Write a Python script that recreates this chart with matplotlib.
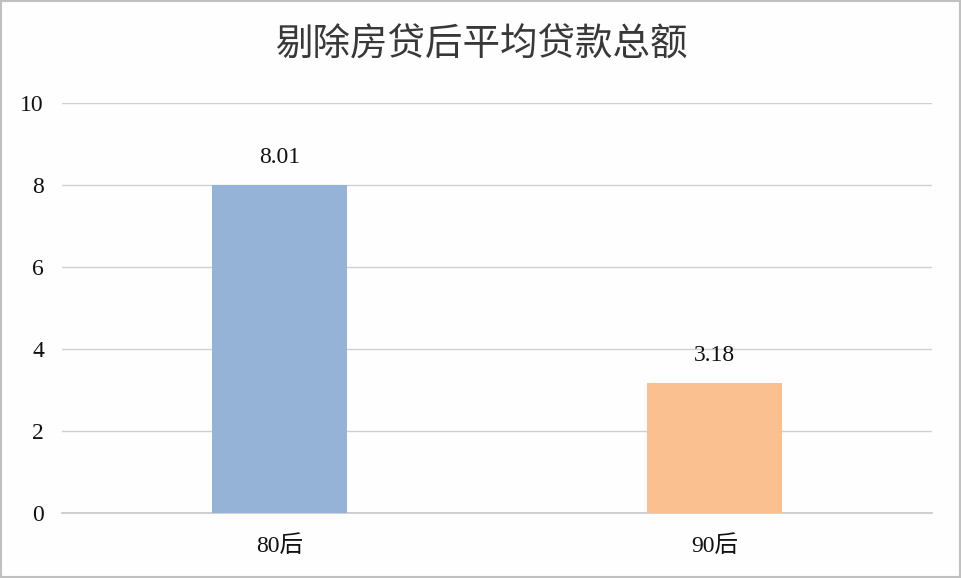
import matplotlib
matplotlib.use("Agg")
import matplotlib.pyplot as plt
from matplotlib.patches import Rectangle

categories = ["80后", "90后"]
values = [8.01, 3.18]
colors = ["#95b3d7", "#fac090"]
yticks = [0, 2, 4, 6, 8, 10]
title = "剔除房贷后平均贷款总额"

plt.rcParams['font.family'] = ['Liberation Serif', 'Noto Sans CJK SC', 'DejaVu Sans']

fig = plt.figure(figsize=(9.62, 5.78), dpi=100)
fig.patch.set_facecolor("#fefefe")
ax = fig.add_axes([62/962, (578-513)/578, (932-62)/962, (513-103)/578])
ax.set_facecolor("#fefefe")

x = list(range(len(categories)))
bars = ax.bar(x, values, width=0.31, color=colors, zorder=3)
ax.set_xlim(-0.5, len(categories) - 0.5)
ax.set_ylim(0, 10)
ax.set_yticks(yticks)
ax.set_yticklabels([str(t) for t in yticks], fontsize=17, color="#111111")
ax.set_xticks(x)
ax.set_xticklabels(categories, fontsize=17, color="#111111",
                   family=['Liberation Serif', 'Noto Sans CJK SC'])
ax.tick_params(axis='both', length=0)
ax.tick_params(axis='y', pad=13)
ax.tick_params(axis='x', pad=16)
ax.grid(axis='y', color="#d0d0d0", linewidth=1, zorder=0)
ax.axhline(0, color="#c8c8c8", linewidth=1.2, zorder=2, clip_on=False)
for s in ax.spines.values():
    s.set_visible(False)

for xi, v in zip(x, values):
    ax.annotate(f"{v:.2f}", (xi, v), xytext=(0, 19.5), textcoords='offset points',
                ha='center', va='center', fontsize=17, color="#111111")

fig.text(0.5, 1 - 45/578, title, ha='center', va='center', fontsize=27,
         color="#383838", family=['Noto Sans CJK SC', 'DejaVu Sans'])

fig.patches.append(Rectangle((0.001, 0.002), 0.997, 0.996, transform=fig.transFigure,
                             fill=False, edgecolor="#c0c0c0", linewidth=1.5))

fig.savefig("out.png", dpi=100, facecolor=fig.get_facecolor())
